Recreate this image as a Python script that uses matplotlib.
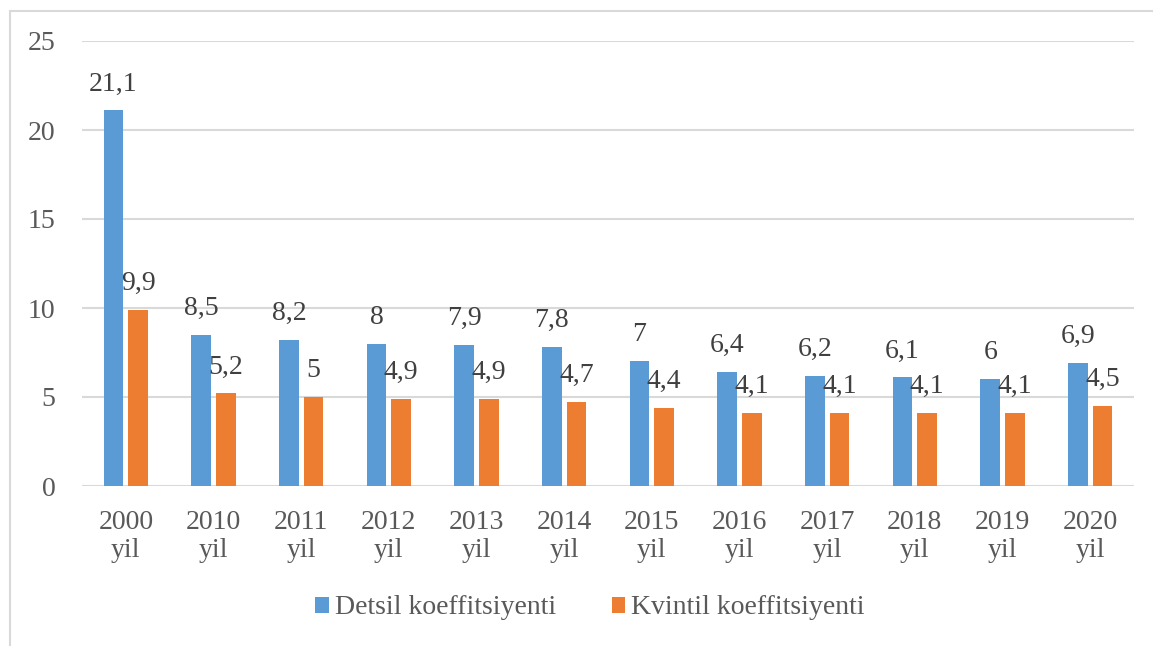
import matplotlib
matplotlib.use("Agg")
import matplotlib.pyplot as plt
import numpy as np
from matplotlib.patches import Rectangle

categories = ["2000\nyil", "2010\nyil", "2011\nyil", "2012\nyil", "2013\nyil", "2014\nyil",
              "2015\nyil", "2016\nyil", "2017\nyil", "2018\nyil", "2019\nyil", "2020\nyil"]
detsil = [21.1, 8.5, 8.2, 8, 7.9, 7.8, 7, 6.4, 6.2, 6.1, 6, 6.9]
kvintil = [9.9, 5.2, 5, 4.9, 4.9, 4.7, 4.4, 4.1, 4.1, 4.1, 4.1, 4.5]
series_names = ["Detsil koeffitsiyenti", "Kvintil koeffitsiyenti"]
yticks = [0, 5, 10, 15, 20, 25]

plt.rcParams['font.family'] = ['Liberation Serif', 'DejaVu Serif']
W, H = 1153, 646
fig = plt.figure(figsize=(W/100, H/100), dpi=100)
ax = fig.add_axes([82/W, 1-486/H, (1134-82)/W, (486-41)/H])

# outer border (left and top visible)
fig.patches.append(Rectangle((10/W, -0.1), 1.2, 1.1-11/H, transform=fig.transFigure,
                             fill=False, edgecolor='#D9D9D9', linewidth=1.5))

x = np.arange(len(categories))
bw = 0.225
off = 0.14
blue = '#5B9BD5'
orange = '#ED7D31'
b1 = ax.bar(x - off, detsil, bw, color=blue, label=series_names[0], zorder=3)
b2 = ax.bar(x + off, kvintil, bw, color=orange, label=series_names[1], zorder=3)

def fmt(v):
    return ('%g' % v).replace('.', ',')

for bars, vals in ((b1, detsil), (b2, kvintil)):
    for r, v in zip(bars, vals):
        ax.annotate(fmt(v), (r.get_x() + r.get_width()/2, v), xytext=(0, 14),
                    textcoords='offset pixels', ha='center', va='bottom',
                    fontsize=20, color='#404040')

ax.set_xlim(-0.5, len(categories) - 0.5)
ax.set_ylim(0, 25)
ax.set_yticks(yticks)
ax.set_yticklabels([str(t) for t in yticks])
ax.set_xticks(x)
ax.set_xticklabels(categories, linespacing=1.2)
ax.tick_params(axis='both', length=0, labelsize=20, labelcolor='#595959')
ax.tick_params(axis='y', pad=19)
ax.tick_params(axis='x', pad=17)
for s in ax.spines.values():
    s.set_visible(False)
ax.grid(axis='y', color='#D9D9D9', linewidth=1.5, zorder=0)
ax.set_axisbelow(True)

leg = fig.legend(handles=[b1, b2], labels=series_names, loc='center',
                 bbox_to_anchor=(590/W, 1-608/H), ncol=2, frameon=False,
                 fontsize=20, handlelength=0.5, handleheight=0.5,
                 handletextpad=0.2, columnspacing=2.0, labelcolor='#595959')

fig.savefig('out.png', dpi=100)
